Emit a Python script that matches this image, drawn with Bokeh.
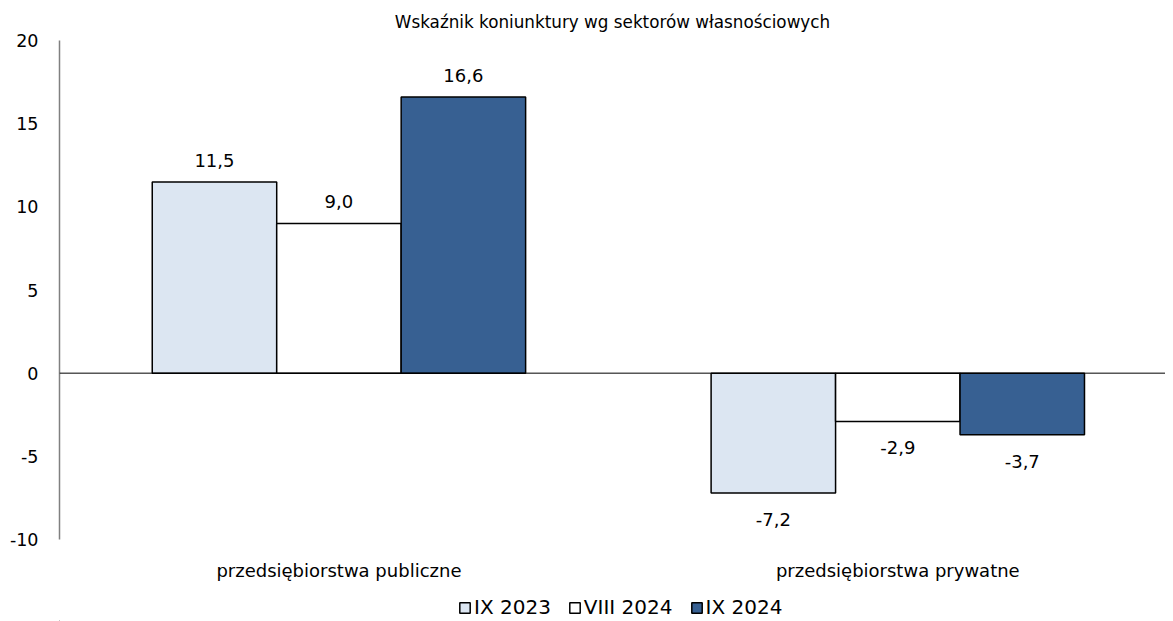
from bokeh.plotting import figure
from bokeh.layouts import column
from bokeh.models import ColumnDataSource, Range1d, Span, LabelSet, Legend, LegendItem
from bokeh.core.properties import value
from bokeh.transform import dodge
from bokeh.embed import file_html
from bokeh.resources import INLINE

categories = ["przedsiębiorstwa publiczne", "przedsiębiorstwa prywatne"]
series_names = ["IX 2023", "VIII 2024", "IX 2024"]
ix_2023 = [11.5, -7.2]
viii_2024 = [9.0, -2.9]
ix_2024 = [16.6, -3.7]
y_ticks = [-10, -5, 0, 5, 10, 15, 20]

FONT = "DejaVu Sans"
colors = ["#DCE6F2", "#FFFFFF", "#376092"]
values = [ix_2023, viii_2024, ix_2024]
BW = 0.2227
offsets = [-BW, 0.0, BW]
xpos = [i + 0.5 for i in range(len(categories))]

p = figure(x_range=Range1d(0, 1.979), y_range=Range1d(-10, 20),
           frame_width=1106, frame_height=499, output_backend="svg", toolbar_location=None,
           min_border_left=59, min_border_right=0, min_border_top=40, min_border_bottom=53)
p.title.text = "Wskaźnik koniunktury wg sektorów własnościowych"
p.title.align = "center"
p.title.text_font = FONT
p.title.text_font_size = "16.8px"
p.title.text_font_style = "normal"
p.title.text_color = "#000000"
p.title.offset = 3
p.title.standoff = 17
p.outline_line_color = None
p.xgrid.visible = False
p.ygrid.visible = False

def fmt(v):
    return f"{v:.1f}".replace(".", ",")

for name, vals, col, off in zip(series_names, values, colors, offsets):
    src = ColumnDataSource(dict(x=xpos, val=vals))
    p.vbar(x=dodge("x", off), top="val", bottom=0, width=BW,
           source=src, fill_color=col, line_color="#000000", line_width=1.5)
    pos = ColumnDataSource(dict(x=[c for c, v in zip(xpos, vals) if v >= 0],
                                val=[v for v in vals if v >= 0],
                                lbl=[fmt(v) for v in vals if v >= 0]))
    neg = ColumnDataSource(dict(x=[c for c, v in zip(xpos, vals) if v < 0],
                                val=[v for v in vals if v < 0],
                                lbl=[fmt(v) for v in vals if v < 0]))
    p.add_layout(LabelSet(x=dodge("x", off), y="val", text="lbl", source=pos,
                          text_align="center", text_baseline="bottom", y_offset=15,
                          text_font=value(FONT), text_font_size="18px", text_color="#000000"))
    p.add_layout(LabelSet(x=dodge("x", off), y="val", text="lbl", source=neg,
                          text_align="center", text_baseline="top", y_offset=-20,
                          text_font=value(FONT), text_font_size="18px", text_color="#000000"))

p.add_layout(Span(location=0, dimension="width", line_color="#000000", line_width=1))

p.yaxis.ticker = y_ticks
p.yaxis.major_label_overrides = {t: str(t) for t in y_ticks}
p.yaxis.major_tick_line_color = None
p.yaxis.minor_tick_line_color = None
p.yaxis.axis_line_color = "#808080"
p.yaxis.axis_line_width = 1.5
p.yaxis.major_label_text_font = FONT
p.yaxis.major_label_text_font_size = "17.5px"
p.yaxis.major_label_text_color = "#000000"
p.yaxis.major_label_standoff = 15

p.xaxis.ticker = xpos
p.xaxis.major_label_overrides = {x: c for x, c in zip(xpos, categories)}
p.xaxis.axis_line_color = None
p.xaxis.major_tick_line_color = None
p.xaxis.minor_tick_line_color = None
p.xaxis.major_label_text_font = FONT
p.xaxis.major_label_text_font_size = "18px"
p.xaxis.major_label_text_color = "#000000"
p.xaxis.major_label_standoff = 14

# legend strip below the chart
lf = figure(width=1165, height=29, x_range=Range1d(0, 1), y_range=Range1d(0, 1),
            output_backend="svg", toolbar_location=None,
            min_border_left=0, min_border_right=0, min_border_top=0, min_border_bottom=0)
lf.axis.visible = False
lf.grid.visible = False
lf.outline_line_color = None
items = []
for name, col in zip(series_names, colors):
    # off-view swatch source: only used to draw the legend key
    r = lf.vbar(x=[-5], top=[-5], bottom=[-6], width=0.1,
                fill_color=col, line_color="#000000", line_width=1.5)
    items.append(LegendItem(label=name, renderers=[r]))
legend = Legend(items=items, orientation="horizontal", location=(399, 2),
                label_text_font=FONT, label_text_font_size="20px", label_text_color="#000000",
                glyph_width=13, glyph_height=13, spacing=17, label_standoff=3,
                border_line_color=None, background_fill_alpha=0, padding=3, margin=0)
lf.add_layout(legend, "center")

layout = column(p, lf, spacing=0)
open("out.html", "w").write(file_html(layout, INLINE))
